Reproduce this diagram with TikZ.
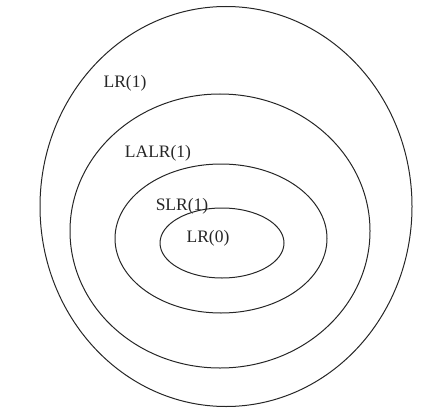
\documentclass[tikz,border=0pt]{standalone}
\usepackage{fontspec}
\setmainfont{Liberation Serif}
\usetikzlibrary{positioning}

\begin{document}
\begin{tikzpicture}[x=1pt,y=-1pt,
	set/.style={draw=black!85, line width=1pt},
	setlabel/.style={font=\fontsize{17.5}{20}\selectfont, text=black!85, inner sep=0pt}]
	\useasboundingbox (0,0) rectangle (427,414);
	% Ellipses
	\draw[set] (226,206.5) ellipse [x radius=186pt, y radius=200pt];
	\draw[set] (220,231) ellipse [x radius=150pt, y radius=137pt];
	\draw[set] (221,238.5) ellipse [x radius=106pt, y radius=74.5pt];
	\draw[set] (222,243) ellipse [x radius=62pt, y radius=35pt];
	% Labels
	\node[setlabel] (lrone) at (125,83) {LR(1)};
	\node[setlabel] (lalr) at (158,153) {LALR(1)};
	\node[setlabel] (slr) at (182,206) {SLR(1)};
	\node[setlabel] (lrzero) at (208,238) {LR(0)};
\end{tikzpicture}
\end{document}
